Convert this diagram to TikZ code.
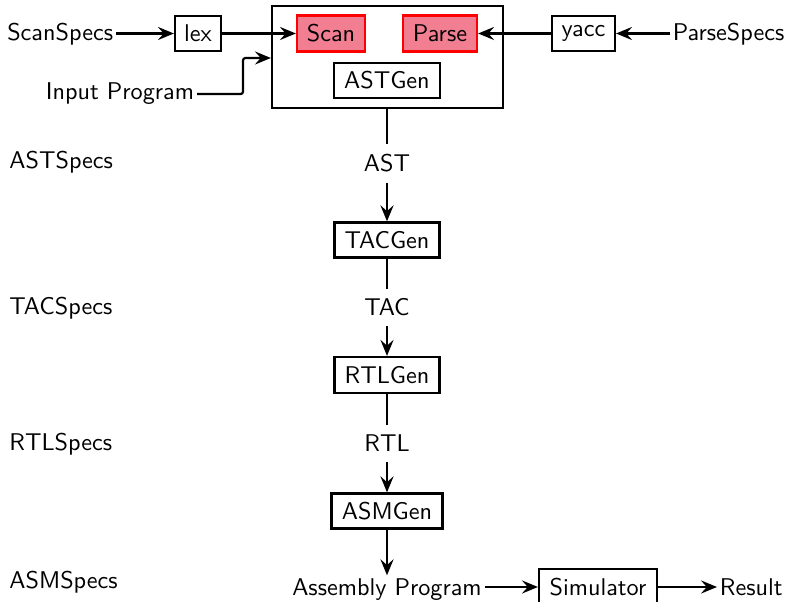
\documentclass[tikz,border=0pt]{standalone}
\usepackage{fontspec}
\usetikzlibrary{arrows.meta}
\definecolor{scanpink}{RGB}{242,126,146}
\begin{document}
\begin{tikzpicture}[x=0.413pt,y=-0.413pt,
  font=\sffamily,
  >={Stealth[length=6.6pt,width=5.4pt,inset=2.4pt]},
  box/.style={draw,line width=0.9pt,inner sep=1pt,minimum height=14.5pt},
  hot/.style={box,draw=red,fill=scanpink},
  txt/.style={inner sep=1pt},
  lbl/.style={inner sep=4pt},
  spec/.style={inner sep=0pt,anchor=base west},
  conn/.style={->,line width=0.9pt},
  wire/.style={line width=0.9pt}
]
\useasboundingbox (0,0) rectangle (786,602);

% container
\node[draw,line width=0.9pt,minimum width=95.4pt,minimum height=42.1pt,inner sep=0pt] (outer) at (387.5,57) {};
\node[hot,minimum width=28.1pt,minimum height=14.9pt] (scan) at (331,33.5) {Scan};
\node[hot,minimum width=30.6pt,minimum height=14.9pt] (parse) at (440,33.5) {Parse};
\node[box,minimum width=43.8pt] (astgen) at (387,80.5) {ASTGen};

% top row
\node[box,minimum width=19pt] (lex) at (198,33.5) {lex};
\node[box,minimum width=26pt] (yacc) at (583.5,33.5) {yacc};
\node[txt,anchor=base east] (scanspecs) at (116,41) {ScanSpecs};
\node[txt,anchor=base west] (parsespecs) at (670,41) {ParseSpecs};
\node[txt,anchor=base east] (input) at (197,100) {Input Program};
\coordinate (bend) at (243,58);

\draw[conn] (scanspecs.east |- lex.west) -- (lex.west);
\draw[conn] (lex.east) -- (scan.west);
\draw[conn] (parsespecs.west |- yacc.east) -- (yacc.east);
\draw[conn] (yacc.west) -- (parse.east);
\draw[conn,rounded corners=1pt] (input.east) -| (bend) -- (outer.west |- bend);

% vertical chain
\node[lbl,anchor=base] (ast) at (387,172) {AST};
\node[box,minimum width=43.4pt] (tacgen) at (387,240) {TACGen};
\node[lbl,anchor=base] (tac) at (387,316) {TAC};
\node[box,minimum width=43.4pt,minimum height=14.9pt] (rtlgen) at (387,375) {RTLGen};
\node[lbl,anchor=base] (rtl) at (387,452) {RTL};
\node[box,minimum width=45.8pt] (asmgen) at (387,511) {ASMGen};
\node[txt,anchor=base] (asm) at (387,595) {Assembly Program};
\node[box,minimum width=48.7pt,minimum height=14.9pt] (sim) at (598,587) {Simulator};
\node[txt,anchor=base west] (result) at (717,595) {Result};

\draw[wire] (outer.south -| ast.north) -- (ast.north);
\draw[conn] (ast.south) -- (tacgen.north);
\draw[wire] (tacgen.south) -- (tac.north);
\draw[conn] (tac.south) -- (rtlgen.north);
\draw[wire] (rtlgen.south) -- (rtl.north);
\draw[conn] (rtl.south) -- (asmgen.north);
\draw[conn] (asmgen.south) -- (asm.north);
\draw[conn] (asm.east |- sim.west) -- (sim.west);
\draw[conn] (sim.east) -- (sim.east -| result.west);

% specs column
\node[spec] (astspecs) at (9,169) {ASTSpecs};
\node[spec] (tacspecs) at (9,315) {TACSpecs};
\node[spec] (rtlspecs) at (9,451) {RTLSpecs};
\node[spec] (asmspecs) at (9,588) {ASMSpecs};
\end{tikzpicture}
\end{document}
